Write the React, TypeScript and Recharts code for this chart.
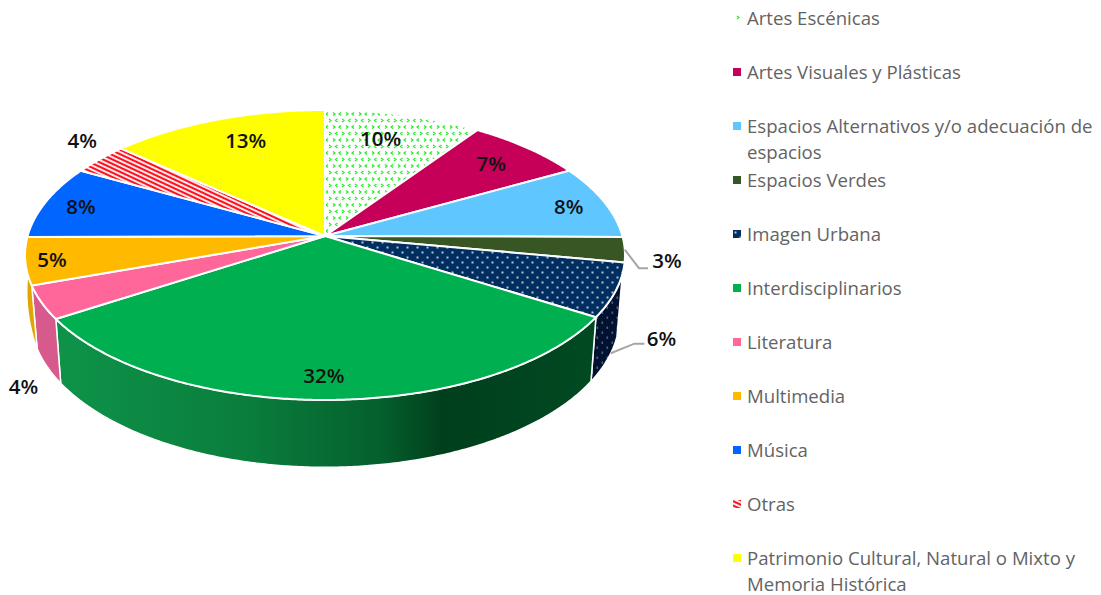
import React from "react";
import { PieChart, Pie, Legend } from "recharts";

const CATEGORIES = [
  "Artes Escénicas",
  "Artes Visuales y Plásticas",
  "Espacios Alternativos y/o adecuación de espacios",
  "Espacios Verdes",
  "Imagen Urbana",
  "Interdisciplinarios",
  "Literatura",
  "Multimedia",
  "Música",
  "Otras",
  "Patrimonio Cultural, Natural o Mixto y Memoria Histórica",
];
const VALUES = [9.6, 7.3, 8.2, 2.8, 6.0, 32.0, 3.7, 5.3, 8.2, 3.51, 13.39];

// styling
const TOP_FILLS = [
  "url(#patEscenicas)", "#C60059", "#5FC6FF", "#375623", "url(#patUrbana)", "#00B050",
  "#FF6699", "#FFBA00", "#0066FF", "url(#patOtras)", "#FFFF00",
];
const WALL_FILLS = [
  "#ddd", "#900040", "#4090c0", "#28401a", "url(#patUrbanaWall)", "url(#gradGreen)",
  "#D65A8C", "#E0A500", "#0050c0", "#c00000", "#d0d000",
];
// label placement: radial fraction and angular shift from the slice's mid-angle
const LABEL_FRAC = [0.78, 0.81, 0.87, 1.137, 1.223, 0.865, 1.285, 0.913, 0.871, 1.16, 0.794];
const LABEL_SHIFT = [-2, 0, 0, 3, 11, 0.6, -20, 0, 0, 4, 2.5];
const LEADER = [null, null, null, "top", null, null, null, null, null, null, null];

const CX = 325;
const CY = 236;
const RADIUS = 297.4;
const PERSP = -0.131;
const SQUASH_TOP = 142.5 / RADIUS;
const SCALE_BOTTOM = 292 / RADIUS;
const SQUASH_BOTTOM = 148 / RADIUS;
const DROP = 61;
const WALL_FROM = 105;
const WALL_TO = 255;
const LEFT_BULGE = 3;

type Pt = [number, number];
const rad = (d: number) => (d * Math.PI) / 180;

function topPt(cx: number, cy: number, r: number, t: number, f = 1): Pt {
  const s = -Math.cos(rad(t)) * f;
  const c = Math.sin(rad(t)) * f;
  const w = 1 + PERSP * s;
  return [cx + (r * c) / w, cy + (r * SQUASH_TOP * s) / w];
}
function bottomPt(cx: number, cy: number, r: number, t: number): Pt {
  const s = -Math.cos(rad(t));
  const c = Math.sin(rad(t));
  const w = 1 + PERSP * s;
  return [cx + (r * SCALE_BOTTOM * c) / w, cy + DROP + (r * SQUASH_BOTTOM * s) / w];
}
function arc(fn: (t: number) => Pt, a: number, b: number): Pt[] {
  const n = Math.max(2, Math.ceil(Math.abs(b - a) * 2));
  const out: Pt[] = [];
  for (let i = 0; i <= n; i++) out.push(fn(a + ((b - a) * i) / n));
  return out;
}
const toPath = (pts: Pt[]) =>
  "M" + pts.map((p) => `${p[0].toFixed(2)} ${p[1].toFixed(2)}`).join("L") + "Z";

function Slice3D(props: any) {
  const { cx, cy, outerRadius, startAngle, endAngle, index } = props;
  const t0 = 90 - startAngle;
  const t1 = 90 - endAngle;
  const top = [[cx, cy] as Pt, ...arc((t) => topPt(cx, cy, outerRadius, t), t0, t1)];
  const w0 = Math.max(t0, WALL_FROM);
  const w1 = Math.min(t1, WALL_TO);
  let wall: Pt[] | null = null;
  if (w1 > w0) {
    const upper = arc((t) => topPt(cx, cy, outerRadius, t), w0, w1);
    const lower = arc((t) => bottomPt(cx, cy, outerRadius, t), w1, w0);
    const seam: Pt[] = [];
    if (w1 === WALL_TO) {
      const a = upper[upper.length - 1];
      const b = lower[0];
      for (let i = 1; i < 10; i++) {
        const u = i / 10;
        seam.push([a[0] + (b[0] - a[0]) * u - LEFT_BULGE * 4 * u * (1 - u), a[1] + (b[1] - a[1]) * u]);
      }
    }
    wall = [...upper, ...seam, ...lower];
  }
  return (
    <g>
      {wall && <path d={toPath(wall)} fill={WALL_FILLS[index]} stroke="#fff" strokeWidth={1.5} strokeLinejoin="round" />}
      <path d={toPath(top)} fill={TOP_FILLS[index]} stroke="#fff" strokeWidth={2} strokeLinejoin="round" />
    </g>
  );
}

function SliceLabel(props: any) {
  const { cx, cy, outerRadius, midAngle, percent, index } = props;
  const t = 90 - midAngle;
  const [x, y] = topPt(cx, cy, outerRadius, t + LABEL_SHIFT[index], LABEL_FRAC[index]);
  let leader: Pt[] | null = null;
  if (LEADER[index] === "top") {
    const start = topPt(cx, cy, outerRadius, t);
    leader = [start, [x - 28, y + 8], [x - 19, y + 8]];
  } else if (index === 4) {
    const start = bottomPt(cx, cy, outerRadius, t);
    leader = [start, [x - 27, y + 6], [x - 17, y + 6]];
  }
  return (
    <g>
      {leader && (
        <polyline
          points={leader.map((p) => p.join(",")).join(" ")}
          fill="none"
          stroke="#A6A6A6"
          strokeWidth={2}
        />
      )}
      <text
        x={x}
        y={y}
        textAnchor="middle"
        dominantBaseline="central"
        fontFamily="'Open Sans', sans-serif"
        fontWeight={600}
        fontSize={20.5}
        fill="#111"
      >
        {Math.round(percent * 100)}%
      </text>
    </g>
  );
}

function LegendRows(props: any) {
  const items: any[] = props.payload || [];
  return (
    <div style={{ position: "relative", width: 368, height: 595 }}>
      {items.map((it, i) => (
        <div
          key={i}
          style={{
            position: "absolute",
            left: 0,
            top: 5 + 54 * i,
            width: 368,
            fontFamily: "'Open Sans', sans-serif",
            fontSize: 18.6,
            lineHeight: "26px",
            color: "#636363",
            paddingLeft: 14,
            boxSizing: "border-box",
          }}
        >
          <svg width={8} height={8} style={{ position: "absolute", left: 0, top: 9 }}>
            <rect width={8} height={8} fill={TOP_FILLS[i]} />
          </svg>
          {it.value}
        </div>
      ))}
    </div>
  );
}

const tableData = CATEGORIES.map((name, i) => ({ name, value: VALUES[i] }));

export default function App() {
  return (
    <div style={{ position: "absolute", left: 0, top: 0, width: 1101, height: 595, overflow: "hidden", background: "#fff" }}>
      <PieChart width={1101} height={595} margin={{ top: 0, right: 0, bottom: 0, left: 0 }}>
        <defs>
          <pattern id="patEscenicas" width="13" height="13" patternUnits="userSpaceOnUse">
            <rect width="13" height="13" fill="#FFFFFF" />
            <path d="M4 2l2 1.5-2 1.5M12.5 2l-2 1.5 2 1.5M3 8.5l-2 1.5 2 1.5M8 8.5l2 1.5-2 1.5" fill="none" stroke="#22EE22" strokeWidth="1.2" />
          </pattern>
          <pattern id="patUrbana" width="10" height="10" patternUnits="userSpaceOnUse">
            <rect width="10" height="10" fill="#002E60" />
            <rect x="1.5" y="1.5" width="2" height="2" fill="#B8C4D4" />
            <rect x="6.5" y="6.5" width="2" height="2" fill="#B8C4D4" />
          </pattern>
          <pattern id="patUrbanaWall" width="10" height="10" patternUnits="userSpaceOnUse">
            <rect width="10" height="10" fill="#001230" />
            <rect x="1.5" y="1.5" width="1.6" height="2.4" fill="#55607A" />
            <rect x="6.5" y="6.5" width="1.6" height="2.4" fill="#55607A" />
          </pattern>
          <pattern id="patOtras" width="4" height="4" patternUnits="userSpaceOnUse" patternTransform="rotate(25)">
            <rect width="4" height="4" fill="#FFE8E8" />
            <rect width="4" height="2" fill="#FF1020" />
          </pattern>
          <linearGradient id="gradGreen" gradientUnits="userSpaceOnUse" x1="55" y1="0" x2="595" y2="0">
            <stop offset="0" stopColor="#0E9349" />
            <stop offset="0.35" stopColor="#0A7E3C" />
            <stop offset="0.6" stopColor="#05602E" />
            <stop offset="0.72" stopColor="#003F1C" />
            <stop offset="1" stopColor="#004A22" />
          </linearGradient>
        </defs>
        <Pie
          data={tableData}
          dataKey="value"
          nameKey="name"
          cx={CX}
          cy={CY}
          innerRadius={0}
          outerRadius={RADIUS}
          startAngle={90}
          endAngle={-270}
          paddingAngle={0}
          isAnimationActive={false}
          shape={Slice3D}
          label={SliceLabel}
          labelLine={false}
        />
        <Legend
          layout="vertical"
          align="right"
          verticalAlign="top"
          content={LegendRows}
          wrapperStyle={{ position: "absolute", left: 733, top: 0, width: 368, height: 595 }}
        />
      </PieChart>
    </div>
  );
}
